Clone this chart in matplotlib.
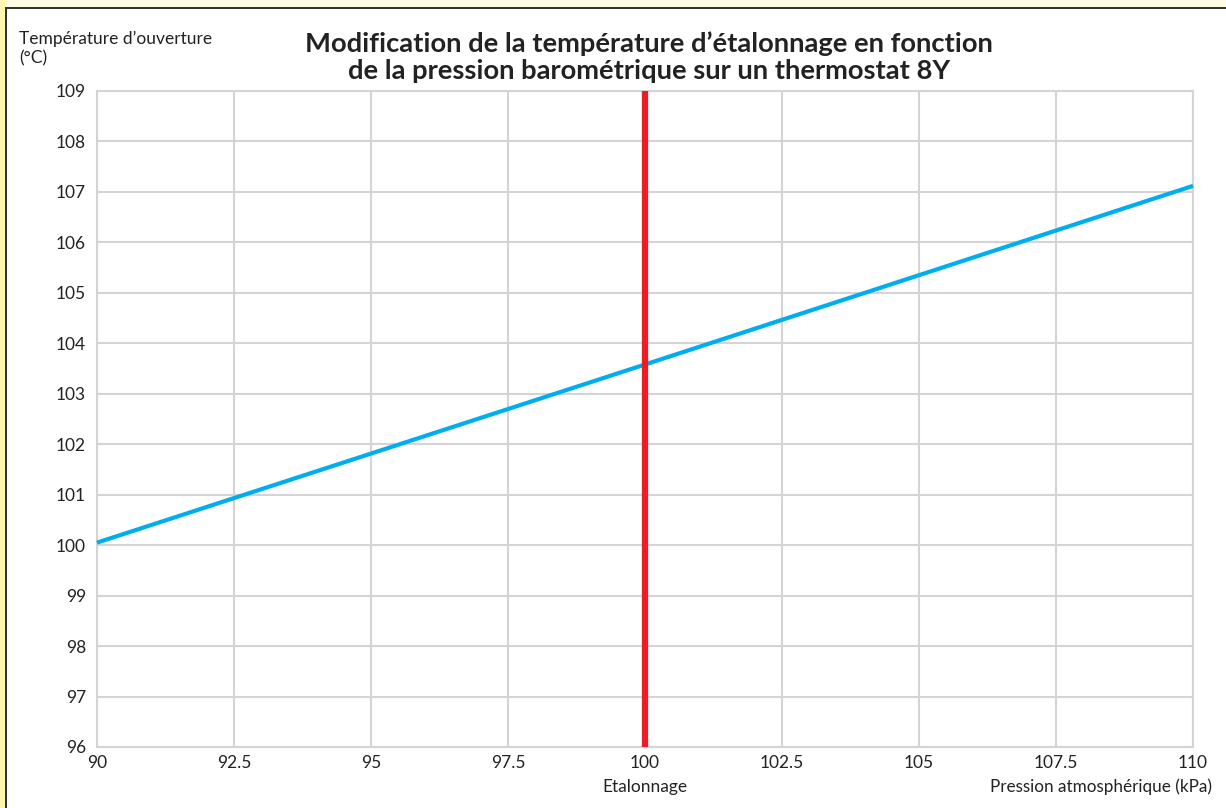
import matplotlib
matplotlib.use("Agg")
import matplotlib.pyplot as plt
from matplotlib.patches import Rectangle

# données
pression = [90, 100, 110]
temperature = [100.05, 103.58, 107.12]
etalonnage = 100
x_ticks = [90, 92.5, 95, 97.5, 100, 102.5, 105, 107.5, 110]
x_labels = ["90", "92.5", "95", "97.5", "100", "102.5", "105", "107.5", "110"]
y_ticks = list(range(96, 110))

plt.rcParams['font.family'] = ['Lato', 'DejaVu Sans']

fig = plt.figure(figsize=(12.26, 8.08), dpi=100)
W, H = 1226, 808

# cadre : bandes jaunes et traits foncés en haut et à gauche
fig.patches.append(Rectangle((0, 1 - 7 / H), 1, 7 / H, transform=fig.transFigure,
                             facecolor='#fffbe3', edgecolor='none', zorder=0))
fig.patches.append(Rectangle((0, 0), 5 / W, 1, transform=fig.transFigure,
                             facecolor='#fff6b0', edgecolor='none', zorder=0))
fig.patches.append(Rectangle((5 / W, 0), 2 / W, 1 - 7 / H, transform=fig.transFigure,
                             facecolor='#333333', edgecolor='none', zorder=1))
fig.patches.append(Rectangle((5 / W, 1 - 9 / H), 1, 2 / H, transform=fig.transFigure,
                             facecolor='#333333', edgecolor='none', zorder=1))

ax = fig.add_axes([97 / W, 1 - 747 / H, (1193 - 97) / W, (747 - 91) / H])
ax.set_xlim(90, 110)
ax.set_ylim(96, 109)
ax.set_xticks(x_ticks)
ax.set_xticklabels(x_labels)
ax.set_yticks(y_ticks)
ax.grid(True, color='#d4d4d4', linewidth=1.5)
ax.set_axisbelow(True)
for s in ax.spines.values():
    s.set_color('#d4d4d4')
    s.set_linewidth(1.5)
ax.tick_params(length=0, labelsize=12.5, colors='#222222', pad=6)
ax.tick_params(axis='y', pad=8)

ax.plot(pression, temperature, color='#00aeef', linewidth=3, solid_capstyle='butt',
        zorder=3, clip_on=False)
ax.axvline(etalonnage, color='#ee1c25', linewidth=4.5, zorder=4)

fig.text(649 / W, 1 - 57 / H, "Modification de la température d’étalonnage en fonction\n"
         "de la pression barométrique sur un thermostat 8Y",
         ha='center', va='center', fontsize=19.7, fontweight='bold', color='#222222',
         linespacing=1.15)
fig.text(19 / W, 1 - 49 / H, "Température d’ouverture\n(°C)", ha='left', va='center',
         fontsize=12.5, color='#222222', linespacing=1.25)
fig.text(645 / W, 1 - 787 / H, "Etalonnage", ha='center', va='center',
         fontsize=12.5, color='#222222')
fig.text(1212 / W, 1 - 787 / H, "Pression atmosphérique (kPa)", ha='right', va='center',
         fontsize=12.3, color='#222222')

fig.savefig("out.png", dpi=100)
